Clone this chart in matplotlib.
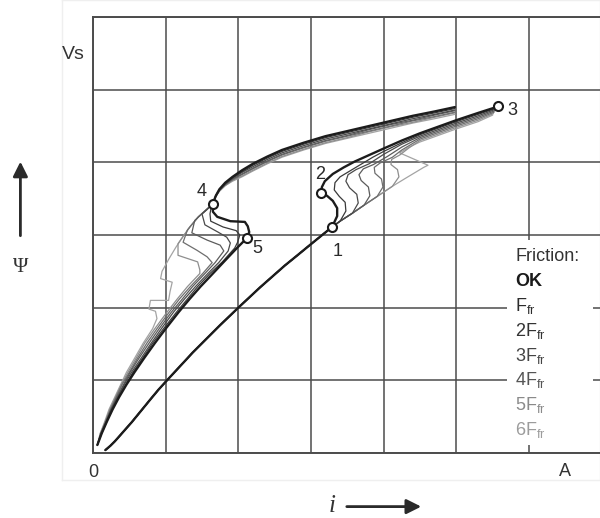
import matplotlib
matplotlib.use("Agg")
import matplotlib.pyplot as plt
from matplotlib.patches import Rectangle

plt.rcParams['font.family'] = ['Liberation Sans', 'DejaVu Sans']
plt.rcParams['mathtext.fontset'] = 'custom'
plt.rcParams['mathtext.rm'] = 'Liberation Sans'

# ---------------------------------------------------------------------------
# Flux linkage (Psi) versus current (i), in grid units, for seven friction levels
# ---------------------------------------------------------------------------
friction_labels = ["OK", r"F$_\mathrm{fr}$", r"2F$_\mathrm{fr}$", r"3F$_\mathrm{fr}$",
                   r"4F$_\mathrm{fr}$", r"5F$_\mathrm{fr}$", r"6F$_\mathrm{fr}$"]
line_colors = ["#1c1c1c", "#3a3a3a", "#4a4a4a", "#5c5c5c", "#6e6e6e", "#8e8e8e", "#a4a4a4"]
text_colors = ["#1a1a1a", "#2c2c2c", "#333333", "#444444", "#555555", "#8a8a8a", "#9c9c9c"]

# energising with the armature at rest, common to all levels (origin -> point 1)
lower_x = [0.17, 0.24, 0.30, 0.38, 0.45, 0.53, 0.62, 0.71, 0.80, 0.90, 1.00, 1.12, 1.25,
           1.37, 1.50, 1.75, 2.00, 2.15, 2.30, 2.47, 2.64, 2.80, 2.97, 3.13, 3.29]
lower_y = [0.04, 0.10, 0.16, 0.25, 0.33, 0.42, 0.53, 0.64, 0.75, 0.87, 0.98, 1.11, 1.25,
           1.38, 1.51, 1.76, 2.00, 2.14, 2.28, 2.43, 2.58, 2.71, 2.85, 2.98, 3.11]

# armature pull-in and rise to full current (point 1 -> 2 -> 3)
rise0_x = [3.36, 3.36, 3.30, 3.22, 3.14, 3.15, 3.19, 3.30, 3.45, 3.60, 3.80, 4.00, 4.25,
           4.50, 4.75, 5.00, 5.30, 5.58]
rise0_y = [3.26, 3.37, 3.47, 3.54, 3.58, 3.66, 3.74, 3.84, 3.93, 4.01, 4.10, 4.19, 4.30,
           4.40, 4.49, 4.58, 4.68, 4.77]
rise1_x = [3.40, 3.48, 3.47, 3.39, 3.32, 3.33, 3.40, 3.55, 3.70, 3.85, 4.00, 4.25, 4.50,
           4.75, 5.00, 5.30, 5.56]
rise1_y = [3.19, 3.33, 3.45, 3.53, 3.62, 3.72, 3.80, 3.89, 3.98, 4.07, 4.15, 4.27, 4.38,
           4.47, 4.56, 4.66, 4.75]
rise2_x = [3.40, 3.57, 3.65, 3.63, 3.53, 3.48, 3.51, 3.62, 3.80, 4.00, 4.25, 4.50, 4.75,
           5.00, 5.30, 5.54]
rise2_y = [3.19, 3.30, 3.44, 3.56, 3.65, 3.74, 3.83, 3.90, 3.98, 4.11, 4.25, 4.36, 4.45,
           4.54, 4.64, 4.73]
rise3_x = [3.40, 3.57, 3.73, 3.81, 3.79, 3.69, 3.66, 3.72, 3.86, 4.05, 4.25, 4.50, 4.75,
           5.00, 5.30, 5.53]
rise3_y = [3.19, 3.30, 3.41, 3.54, 3.66, 3.75, 3.83, 3.91, 3.97, 4.08, 4.21, 4.34, 4.43,
           4.52, 4.62, 4.71]
rise4_x = [3.40, 3.57, 3.73, 3.91, 3.99, 3.97, 3.88, 3.87, 3.95, 4.12, 4.25, 4.50, 4.75,
           5.00, 5.30, 5.52]
rise4_y = [3.19, 3.30, 3.41, 3.53, 3.66, 3.77, 3.85, 3.93, 3.99, 4.07, 4.17, 4.32, 4.41,
           4.50, 4.60, 4.69]
rise5_x = [3.40, 3.57, 3.73, 3.91, 4.12, 4.21, 4.19, 4.10, 4.11, 4.22, 4.35, 4.50, 4.75,
           5.00, 5.30, 5.51]
rise5_y = [3.19, 3.30, 3.41, 3.53, 3.67, 3.80, 3.90, 3.97, 4.04, 4.10, 4.20, 4.30, 4.39,
           4.48, 4.58, 4.67]
rise6_x = [3.40, 3.57, 3.73, 3.91, 4.12, 4.30, 4.55, 4.61, 4.22, 4.35, 4.50, 4.75, 5.00,
           5.30, 5.50]
rise6_y = [3.19, 3.30, 3.41, 3.53, 3.67, 3.78, 3.93, 3.96, 4.13, 4.21, 4.28, 4.37, 4.46,
           4.56, 4.65]

# de-energising along the closed-armature curve (from full current towards point 4)
upper_x = [4.98, 4.70, 4.40, 4.10, 3.80, 3.50, 3.20, 2.90, 2.60, 2.40, 2.20, 2.05, 1.92,
           1.82, 1.74, 1.69, 1.66]
upper0_y = [4.76, 4.70, 4.64, 4.57, 4.50, 4.43, 4.36, 4.27, 4.17, 4.08, 3.98, 3.89, 3.80,
            3.72, 3.63, 3.54, 3.46]
upper1_y = [4.74, 4.68, 4.62, 4.55, 4.48, 4.41, 4.34, 4.25, 4.15, 4.06, 3.96, 3.87, 3.79,
            3.71, 3.63, 3.54, 3.46]
upper2_y = [4.72, 4.66, 4.60, 4.53, 4.46, 4.39, 4.32, 4.23, 4.13, 4.04, 3.94, 3.86, 3.78,
            3.70, 3.62, 3.54, 3.46]
upper3_y = [4.71, 4.65, 4.58, 4.52, 4.45, 4.37, 4.30, 4.21, 4.11, 4.02, 3.92, 3.84, 3.77,
            3.70, 3.62, 3.54, 3.46]
upper4_y = [4.69, 4.63, 4.57, 4.50, 4.43, 4.36, 4.29, 4.20, 4.10, 4.01, 3.91, 3.83, 3.76,
            3.69, 3.61, 3.53, 3.46]
upper5_y = [4.68, 4.62, 4.55, 4.49, 4.42, 4.34, 4.27, 4.18, 4.08, 3.99, 3.89, 3.81, 3.75,
            3.68, 3.61, 3.53, 3.46]
upper6_y = [4.66, 4.60, 4.54, 4.47, 4.40, 4.33, 4.26, 4.17, 4.07, 3.98, 3.88, 3.80, 3.74,
            3.68, 3.60, 3.53, 3.46]

# armature drop-out (point 4 -> point 5 for the frictionless case)
drop0_x = [1.65, 1.65, 1.71, 1.89, 2.09, 2.13, 2.15, 2.12, 1.98, 1.80]
drop0_y = [3.43, 3.32, 3.25, 3.19, 3.18, 3.12, 3.04, 2.96, 2.82, 2.63]
drop1_x = [1.63, 1.61, 1.62, 1.79, 1.97, 2.02, 1.99, 1.95, 1.78]
drop1_y = [3.40, 3.29, 3.19, 3.11, 3.06, 3.00, 2.90, 2.82, 2.63]
drop2_x = [1.64, 1.57, 1.50, 1.54, 1.72, 1.84, 1.89, 1.86, 1.73]
drop2_y = [3.42, 3.35, 3.29, 3.14, 3.04, 2.97, 2.89, 2.78, 2.62]
drop3_x = [1.64, 1.52, 1.40, 1.36, 1.57, 1.75, 1.80, 1.68]
drop3_y = [3.42, 3.31, 3.20, 3.03, 2.93, 2.86, 2.78, 2.62]
drop4_x = [1.64, 1.55, 1.45, 1.30, 1.24, 1.43, 1.57, 1.64]
drop4_y = [3.42, 3.34, 3.25, 3.07, 2.90, 2.79, 2.70, 2.62]
drop5_x = [1.64, 1.55, 1.45, 1.34, 1.24, 1.17, 1.17, 1.44, 1.47]
drop5_y = [3.42, 3.34, 3.25, 3.12, 2.98, 2.88, 2.72, 2.63, 2.52]
drop6_x = [1.64, 1.55, 1.45, 1.34, 1.24, 1.14, 1.05, 0.95, 0.93, 1.09, 1.06, 1.04, 0.79,
           0.77, 0.86, 0.88]
drop6_y = [3.42, 3.34, 3.25, 3.12, 2.98, 2.83, 2.68, 2.50, 2.40, 2.35, 2.22, 2.10, 2.10,
           1.98, 1.95, 1.85]

# return to the origin with the armature released
middle_y = [2.47, 2.29, 2.12, 1.94, 1.71, 1.51, 1.30, 1.11, 0.94, 0.77, 0.60, 0.43, 0.27, 0.11]
middle0_x = [1.65, 1.48, 1.33, 1.18, 1.00, 0.85, 0.70, 0.57, 0.46, 0.36, 0.27, 0.19, 0.12, 0.06]
middle1_x = [1.61, 1.44, 1.30, 1.15, 0.97, 0.82, 0.68, 0.55, 0.45, 0.35, 0.26, 0.19, 0.12, 0.06]
middle2_x = [1.58, 1.41, 1.26, 1.11, 0.94, 0.80, 0.66, 0.53, 0.43, 0.34, 0.25, 0.18, 0.11, 0.06]
middle3_x = [1.54, 1.37, 1.23, 1.08, 0.91, 0.77, 0.63, 0.51, 0.42, 0.33, 0.25, 0.18, 0.11, 0.06]
middle4_x = [1.51, 1.34, 1.19, 1.05, 0.88, 0.74, 0.61, 0.50, 0.40, 0.32, 0.24, 0.17, 0.11, 0.06]
middle5_x = [1.47, 1.30, 1.16, 1.02, 0.85, 0.71, 0.59, 0.48, 0.39, 0.31, 0.23, 0.17, 0.10, 0.06]
middle6_x = [1.44, 1.27, 1.12, 0.98, 0.82, 0.69, 0.57, 0.46, 0.38, 0.30, 0.22, 0.16, 0.10, 0.06]
middle_start = [0, 0, 0, 0, 0, 0, 4]   # index where each level rejoins the return curve

rise_x = [rise0_x, rise1_x, rise2_x, rise3_x, rise4_x, rise5_x, rise6_x]
rise_y = [rise0_y, rise1_y, rise2_y, rise3_y, rise4_y, rise5_y, rise6_y]
upper_y = [upper0_y, upper1_y, upper2_y, upper3_y, upper4_y, upper5_y, upper6_y]
drop_x = [drop0_x, drop1_x, drop2_x, drop3_x, drop4_x, drop5_x, drop6_x]
drop_y = [drop0_y, drop1_y, drop2_y, drop3_y, drop4_y, drop5_y, drop6_y]
middle_x = [middle0_x, middle1_x, middle2_x, middle3_x, middle4_x, middle5_x, middle6_x]

# characteristic operating points of the frictionless cycle
point_names = ["1", "2", "3", "4", "5"]
point_x = [3.29, 3.14, 5.58, 1.65, 2.12]
point_y = [3.11, 3.58, 4.77, 3.43, 2.96]
point_label_offsets = [(6, -25), (-1, 18), (14, -4), (-11, 12), (10, -11)]

# ---------------------------------------------------------------------------
fig = plt.figure(figsize=(6.0, 5.18), dpi=100)

# faint frame around the drawing area
frame = fig.add_axes([0.103, 0.073, 0.897, 0.927], zorder=-5)
frame.set_xticks([])
frame.set_yticks([])
for s in frame.spines.values():
    s.set_color("#efefef")
    s.set_linewidth(1.0)

ax = fig.add_axes([0.155, 0.1255, 0.845, 0.8417], zorder=1)
ax.set_xlim(0, 6.977)
ax.set_ylim(0, 6)
ax.set_xticks(range(0, 7))
ax.set_yticks(range(0, 7))
ax.tick_params(length=0, labelbottom=False, labelleft=False)
ax.set_axisbelow(True)
ax.grid(True, color="#4c4c4c", lw=1.1)
for side in ("left", "top", "bottom"):
    ax.spines[side].set_color("#4c4c4c")
    ax.spines[side].set_linewidth(1.4)
ax.spines["right"].set_visible(False)
ax.patch.set_alpha(0)

# blank panel that holds the friction key
ax.add_patch(Rectangle((5.70, 0.11), 1.18, 2.82, facecolor="white", edgecolor="none", zorder=1))

# curves: lightest (highest friction) first, frictionless on top
for k in range(6, -1, -1):
    lw = 1.7 if k == 0 else 0.9
    z = 3 + (6 - k) * 0.1
    ax.plot(lower_x + rise_x[k], lower_y + rise_y[k], color=line_colors[k], lw=lw,
            solid_joinstyle="round", solid_capstyle="round", zorder=z)
    s = middle_start[k]
    fx = upper_x + drop_x[k] + middle_x[k][s:]
    fy = upper_y[k] + drop_y[k] + middle_y[s:]
    ax.plot(fx, fy, color=line_colors[k], lw=lw, solid_joinstyle="round",
            solid_capstyle="round", zorder=z)

ax.plot(point_x, point_y, ls="none", marker="o", ms=6.5, mfc="white", mec="#1a1a1a",
        mew=1.5, zorder=5)
for name, px, py, off in zip(point_names, point_x, point_y, point_label_offsets):
    ax.annotate(name, (px, py), xytext=off, textcoords="offset pixels",
                ha="center", va="center", fontsize=13, color="#2a2a2a", zorder=6)

# friction key
key_x = 5.81
key_baselines = [2.30, 1.95, 1.61, 1.27, 0.93, 0.59, 0.25]
ax.text(key_x, 2.64, "Friction:", fontsize=13, color="#333333", va="baseline", zorder=6)
for k, (lab, yb) in enumerate(zip(friction_labels, key_baselines)):
    ax.text(key_x, yb, lab, fontsize=13, color=text_colors[k], va="baseline",
            fontweight="bold" if k == 0 else "normal", zorder=6)

# axis annotations outside the grid
fig.text(0.122, 0.894, "Vs", fontsize=14, color="#333333", ha="center", va="center")
fig.text(0.155, 0.087, "0", fontsize=13, color="#333333", ha="center", va="center")
fig.text(0.942, 0.089, "A", fontsize=13, color="#333333", ha="center", va="center")
fig.text(0.034, 0.483, "\u03a8", fontsize=15, family="Liberation Serif", color="#333333",
         ha="center", va="center")
fig.text(0.553, 0.024, "i", fontsize=18, family="Liberation Serif", style="italic",
         color="#333333", ha="center", va="center")
ax.annotate("", xy=(0.034, 0.688), xytext=(0.034, 0.545), xycoords="figure fraction",
            textcoords="figure fraction",
            arrowprops=dict(arrowstyle="-|>", lw=2.0, color="#2a2a2a", mutation_scale=22,
                            shrinkA=0, shrinkB=0))
ax.annotate("", xy=(0.702, 0.022), xytext=(0.578, 0.022), xycoords="figure fraction",
            textcoords="figure fraction",
            arrowprops=dict(arrowstyle="-|>", lw=2.0, color="#2a2a2a", mutation_scale=22,
                            shrinkA=0, shrinkB=0))

fig.savefig("out.png", dpi=100)
